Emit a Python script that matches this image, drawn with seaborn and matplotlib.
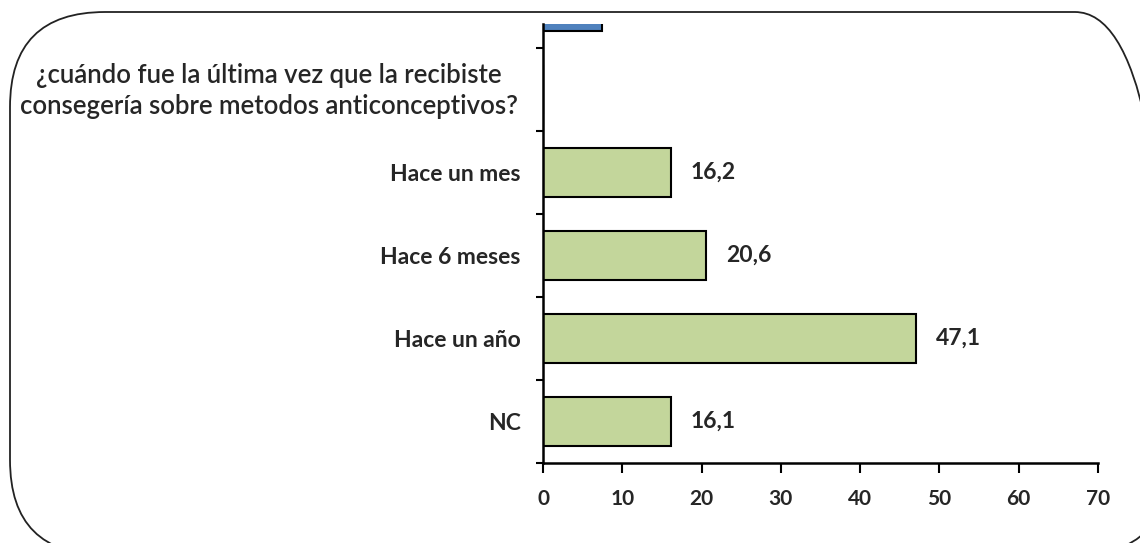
import matplotlib
matplotlib.use('Agg')
import matplotlib.pyplot as plt
import seaborn as sns
import pandas as pd
from matplotlib.patches import FancyBboxPatch

# data
categories = ['top', 'question', 'Hace un mes', 'Hace 6 meses', 'Hace un año', 'NC']
values = [7.5, 0, 16.2, 20.6, 47.1, 16.1]
tick_labels = ['', '', 'Hace un mes', 'Hace 6 meses', 'Hace un año', 'NC']
bar_colors = ['#4F81BD', '#C3D69B', '#C3D69B', '#C3D69B', '#C3D69B', '#C3D69B']
question = '¿cuándo fue la última vez que la recibiste\nconsegería sobre metodos anticonceptivos?'

sns.set_style('white')
plt.rcParams['font.family'] = ['Lato', 'DejaVu Sans']

df = pd.DataFrame({'cat': categories, 'val': values})

fig = plt.figure(figsize=(11.4, 5.43), dpi=100)

# rounded frame drawn in pixel units on a background axes (y up)
bg = fig.add_axes([0, 0, 1, 1], zorder=0)
bg.set_xlim(0, 1140)
bg.set_ylim(0, 543)
bg.axis('off')
frame = FancyBboxPatch((10, -12), 1160, 543, boxstyle='round,pad=0,rounding_size=95',
                       fill=False, edgecolor='#222222', linewidth=1.3)
bg.add_patch(frame)

ax = fig.add_axes([543 / 1140, 80 / 543, 555 / 1140, 439 / 543], zorder=1)
ax.patch.set_alpha(0)
sns.barplot(data=df, x='val', y='cat', orient='h', palette=bar_colors, hue='cat',
            legend=False, width=0.6, saturation=1, edgecolor='black', linewidth=1.5, ax=ax)

ax.set_xticks(range(0, 71, 10))
ax.set_xticklabels([str(t) for t in range(0, 71, 10)], fontsize=15, fontweight='bold')
ax.set_yticks([i + 0.5 for i in range(0, 6)], minor=False)
ax.set_yticklabels([])
ax.set_yticks(range(len(categories)), minor=True)
ax.set_yticklabels(tick_labels, minor=True, fontsize=16.5, fontweight='bold')
ax.set_xlim(0, 70)
ax.set_ylim(5.5, 0.21)
ax.tick_params(axis='y', which='minor', length=0, pad=16)
ax.tick_params(axis='y', which='major', direction='out', length=5, width=1.5, color='black', left=True)
ax.tick_params(axis='x', direction='out', length=7, width=1.5, color='black', bottom=True, pad=12)
ax.set_xlabel('')
ax.set_ylabel('')

for s in ['top', 'right']:
    ax.spines[s].set_visible(False)
for s in ['left', 'bottom']:
    ax.spines[s].set_color('black')
    ax.spines[s].set_linewidth(1.8)

# value labels
for i, v in enumerate(values):
    if i < 2:
        continue
    ax.annotate(str(v).replace('.', ','), xy=(v, i), xytext=(14, 0), textcoords='offset points',
                ha='left', va='center', fontsize=16.5, fontweight='bold')

ax.text(-34.6, 1.02, question, ha='center', va='center', fontsize=18.5, fontweight='semibold',
        multialignment='center', linespacing=1.3)

plt.savefig('out.png', dpi=100)
